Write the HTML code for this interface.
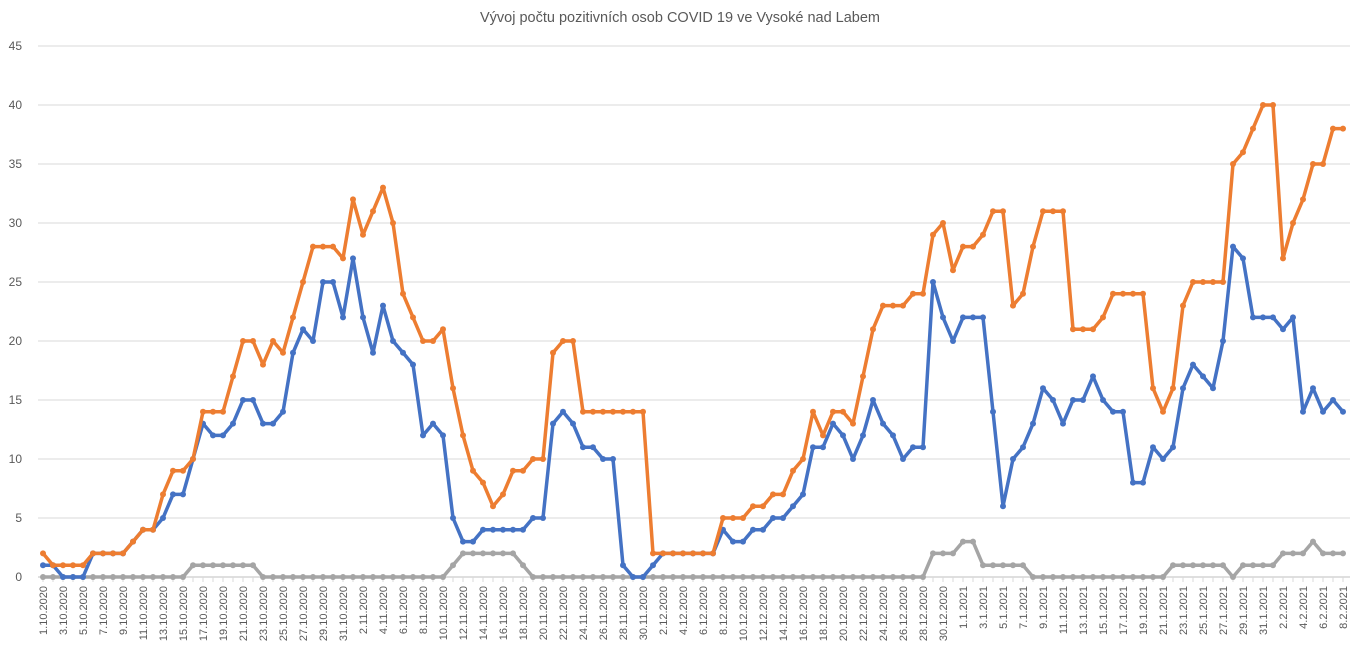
<!DOCTYPE html>
<html><head><meta charset="utf-8"><style>
html,body{margin:0;padding:0;background:#fff;}
svg{display:block;font-family:"Liberation Sans",sans-serif;}
</style></head><body>
<svg id="c" width="1360" height="657" viewBox="0 0 1360 657" xmlns="http://www.w3.org/2000/svg">
<text x="680" y="22" text-anchor="middle" font-size="14.5" fill="#595959">Vývoj počtu pozitivních osob COVID 19 ve Vysoké nad Labem</text>
<g id="grid"></g><g id="lbl"></g><g id="ser"></g>
</svg>
<script>
var NS="http://www.w3.org/2000/svg";
function el(t,a,p,txt){var e=document.createElementNS(NS,t);for(var k in a)e.setAttribute(k,a[k]);if(txt!=null)e.textContent=txt;p.appendChild(e);return e;}
var g=document.getElementById('grid'),L=document.getElementById('lbl'),S=document.getElementById('ser');
function Y(v){return 577-v*531/45;}
function X(i){return 43+i*10;}
for(var v=0;v<=45;v+=5){var y=Y(v);el('line',{x1:38,x2:1350,y1:y,y2:y,stroke:v==0?'#bfbfbf':'#d9d9d9','stroke-width':1},g);
el('text',{x:22,y:y+4,'text-anchor':'end','font-size':12,fill:'#595959'},L,String(v));}
var orange=[2,1,1,1,1,2,2,2,2,3,4,4,7,9,9,10,14,14,14,17,20,20,18,20,19,22,25,28,28,28,27,32,29,31,33,30,24,22,20,20,21,16,12,9,8,6,7,9,9,10,10,19,20,20,14,14,14,14,14,14,14,2,2,2,2,2,2,2,5,5,5,6,6,7,7,9,10,14,12,14,14,13,17,21,23,23,23,24,24,29,30,26,28,28,29,31,31,23,24,28,31,31,31,21,21,21,22,24,24,24,24,16,14,16,23,25,25,25,25,35,36,38,40,40,27,30,32,35,35,38,38];
var blue=[1,1,0,0,0,2,2,2,2,3,4,4,5,7,7,10,13,12,12,13,15,15,13,13,14,19,21,20,25,25,22,27,22,19,23,20,19,18,12,13,12,5,3,3,4,4,4,4,4,5,5,13,14,13,11,11,10,10,1,0,0,1,2,2,2,2,2,2,4,3,3,4,4,5,5,6,7,11,11,13,12,10,12,15,13,12,10,11,11,25,22,20,22,22,22,14,6,10,11,13,16,15,13,15,15,17,15,14,14,8,8,11,10,11,16,18,17,16,20,28,27,22,22,22,21,22,14,16,14,15,14];
var gray=[];for(var i=0;i<131;i++)gray.push(0);
function set(a,b,v){for(var i=a;i<=b;i++)gray[i]=v;}
set(15,21,1);gray[41]=1;set(42,47,2);gray[48]=1;set(89,91,2);set(92,93,3);set(94,98,1);set(113,118,1);set(120,123,1);set(124,126,2);gray[127]=3;set(128,130,2);
// x ticks and labels
var d=new Date(2020,9,1);
for(var i=0;i<131;i++){var x=X(i);
 el('line',{x1:x,x2:x,y1:577,y2:582,stroke:'#d9d9d9','stroke-width':1},g);
 if(i%2==0){var t=d.getDate()+'.'+(d.getMonth()+1)+'.'+d.getFullYear();
  el('text',{x:0,y:0,'text-anchor':'end','font-size':11,fill:'#595959',transform:'translate('+(x+4)+',586) rotate(-90)'},L,t);}
 d.setDate(d.getDate()+1);}
function draw(arr,col){var p='';for(var i=0;i<arr.length;i++)p+=(i?'L':'M')+X(i)+','+Y(arr[i]).toFixed(1);
 el('path',{d:p,fill:'none',stroke:col,'stroke-width':3.5,'stroke-linejoin':'round'},S);
 for(var i=0;i<arr.length;i++)el('circle',{cx:X(i),cy:Y(arr[i]),r:3,fill:col},S);}
draw(gray,'#a5a5a5');draw(blue,'#4472c4');draw(orange,'#ed7d31');
</script>
</body></html>
